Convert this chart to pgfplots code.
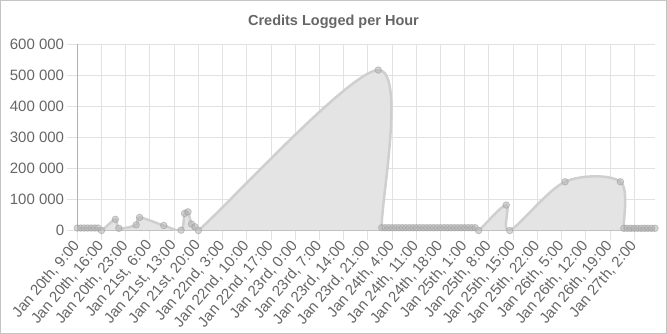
\documentclass[border=0pt]{standalone}
\usepackage{pgfplots}
\usepackage{pgfplotstable}
\pgfplotsset{compat=1.18}
\usepackage{fontspec}
\setmainfont{Liberation Sans}
\definecolor{txt}{HTML}{666666}
\definecolor{gridc}{HTML}{E2E2E2}
\definecolor{axisc}{HTML}{B0B0B0}
\definecolor{linec}{HTML}{CFCFCF}
\definecolor{areac}{HTML}{E4E4E4}
\definecolor{markf}{HTML}{B5B5B5}
\definecolor{markd}{HTML}{A0A0A0}
\definecolor{framec}{HTML}{C4C4C4}

\pgfplotstableread{
h v
0 8000
1 8000
2 8000
3 8000
4 8000
5 8000
6 8000
7 0
11 36000
12 7000
17 18000
18 42000
25 16000
30 1000
31 55000
32 60000
33 21000
34 12000
35 0
87 517000
88 9000
89 9000
90 9000
91 9000
92 9000
93 9000
94 9000
95 9000
96 9000
97 9000
98 9000
99 9000
100 9000
101 9000
102 9000
103 9000
104 9000
105 9000
106 9000
107 9000
108 9000
109 9000
110 9000
111 9000
112 9000
113 9000
114 9000
115 9000
116 0
124 82000
125 0
141 157000
157 157000
158 7000
159 7000
160 7000
161 7000
162 7000
163 7000
164 7000
165 7000
166 7000
167 7000
}\credits

\begin{document}
\begin{tikzpicture}
\useasboundingbox (0pt,0pt) rectangle (667pt,334pt);
\draw[framec, line width=1pt] (0.5pt,0.5pt) rectangle (666.5pt,333.5pt);
\node[font=\fontsize{14.5}{17}\selectfont\bfseries, text=txt] at (333.5pt,312pt) {Credits Logged per Hour};
\begin{axis}[
  at={(77.3pt,103.5pt)}, anchor=south west,
  scale only axis, width=577.7pt, height=186.2pt,
  xmin=0, xmax=167, ymin=0, ymax=600000,
  scaled y ticks=false,
  axis x line*=bottom, axis y line*=left,
  axis line style={axisc, line width=1pt, -},
  grid=major, major grid style={gridc, line width=1pt},
  tick align=outside, major tick length=10pt,
  tick style={gridc, line width=1pt},
  xtick={0,7,...,161},
  xticklabels={{Jan 20th, 9:00},{Jan 20th, 16:00},{Jan 20th, 23:00},{Jan 21st, 6:00},{Jan 21st, 13:00},{Jan 21st, 20:00},{Jan 22nd, 3:00},{Jan 22nd, 10:00},{Jan 22nd, 17:00},{Jan 23rd, 0:00},{Jan 23rd, 7:00},{Jan 23rd, 14:00},{Jan 23rd, 21:00},{Jan 24th, 4:00},{Jan 24th, 11:00},{Jan 24th, 18:00},{Jan 25th, 1:00},{Jan 25th, 8:00},{Jan 25th, 15:00},{Jan 25th, 22:00},{Jan 26th, 5:00},{Jan 26th, 12:00},{Jan 26th, 19:00},{Jan 27th, 2:00}},
  ytick={0,100000,200000,300000,400000,500000,600000},
  yticklabels={0,100 000,200 000,300 000,400 000,500 000,600 000},
  ticklabel style={font=\fontsize{15}{18}\selectfont, text=txt},
  xticklabel style={rotate=50, anchor=east, inner sep=0pt, xshift=-2pt, yshift=-1pt},
  yticklabel style={anchor=east, inner sep=0pt, xshift=-3pt},
  clip mode=individual,
]
\addplot[draw=none, fill=areac, smooth, tension=0.55] table[x=h,y=v]{\credits} \closedcycle;
\addplot[linec, line width=2.5pt, smooth, tension=0.55, mark=*, mark size=3.3pt,
  mark options={fill=markf, draw=markd, fill opacity=0.55, draw opacity=0.6, line width=0.8pt}]
  table[x=h,y=v]{\credits};
\end{axis}
\end{tikzpicture}
\end{document}
